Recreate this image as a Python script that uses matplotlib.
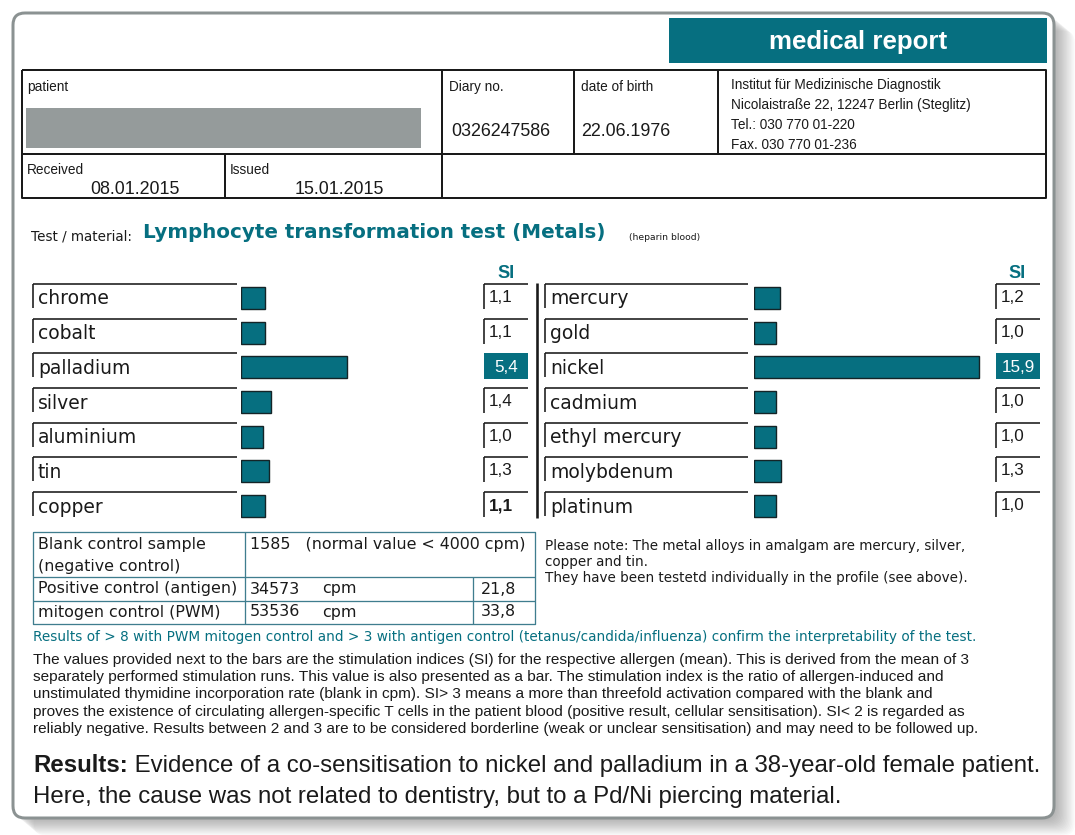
import numpy as np
import matplotlib
matplotlib.use('Agg')
import matplotlib.pyplot as plt
from matplotlib.patches import Rectangle, FancyBboxPatch
from matplotlib import font_manager

# ---------------- data ----------------
left_metals = ['chrome', 'cobalt', 'palladium', 'silver', 'aluminium', 'tin', 'copper']
left_si = [1.1, 1.1, 5.4, 1.4, 1.0, 1.3, 1.1]
right_metals = ['mercury', 'gold', 'nickel', 'cadmium', 'ethyl mercury', 'molybdenum', 'platinum']
right_si = [1.2, 1.0, 15.9, 1.0, 1.0, 1.3, 1.0]
positive_threshold = 3.0
bold_value_rows = ['copper']

control_labels = ['Positive control (antigen)', 'mitogen control (PWM)']
control_cpm = [34573, 53536]
control_si = [21.8, 33.8]
blank_cpm = 1585
blank_normal_cpm = 4000

diary_no = '0326247586'
date_of_birth = '22.06.1976'
received = '08.01.2015'
issued = '15.01.2015'
institute = ['Institut für Medizinische Diagnostik',
             'Nicolaistraße 22, 12247 Berlin (Steglitz)',
             'Tel.: 030 770 01-220',
             'Fax. 030 770 01-236']

note_lines = ['Please note: The metal alloys in amalgam are mercury, silver,',
              'copper and tin.',
              'They have been testetd individually in the profile (see above).']
criteria_line = ('Results of > 8 with PWM mitogen control and > 3 with antigen control '
                 '(tetanus/candida/influenza) confirm the interpretability of the test.')
paragraph = [
    'The values provided next to the bars are the stimulation indices (SI) for the respective allergen (mean). This is derived from the mean of 3',
    'separately performed stimulation runs. This value is also presented as a bar. The stimulation index is the ratio of allergen-induced and',
    'unstimulated thymidine incorporation rate (blank in cpm). SI> 3 means a more than threefold activation compared with the blank and',
    'proves the existence of circulating allergen-specific T cells in the patient blood (positive result, cellular sensitisation). SI< 2 is regarded as',
    'reliably negative. Results between 2 and 3 are to be considered borderline (weak or unclear sensitisation) and may need to be followed up.',
]
results_head = 'Results:'
results_lines = [' Evidence of a co-sensitisation to nickel and palladium in a 38-year-old female patient.',
                 'Here, the cause was not related to dentistry, but to a Pd/Ni piercing material.']

# ---------------- styles ----------------
TEAL = '#066f80'
GRAYBOX = '#959b9b'
FRAME = '#8b9292'
INK = '#1a1a1a'
names = {f.name for f in font_manager.fontManager.ttflist}
NARROW = ['Liberation Sans Narrow'] if 'Liberation Sans Narrow' in names else ['Liberation Sans', 'DejaVu Sans']
ARIAL = ['Liberation Sans', 'DejaVu Sans']
GOTHIC = ['DejaVu Sans']

W, H = 1075, 835
fig = plt.figure(figsize=(W / 100, H / 100), dpi=100)
ax = fig.add_axes([0, 0, 1, 1])
ax.set_xlim(0, W)
ax.set_ylim(H, 0)
ax.axis('off')
R = fig.canvas.get_renderer()
PT = 0.72  # points per pixel


def fit(s, width, family, weight='normal'):
    t = ax.text(0, 0, s, fontsize=10, family=family, weight=weight)
    w = t.get_window_extent(renderer=R).width
    t.remove()
    return 10 * width / w


def txt(x, y, s, size, family=GOTHIC, color=INK, weight='normal', ha='left', va='center', **kw):
    return ax.text(x, y, s, fontsize=size, family=family, color=color, weight=weight,
                   ha=ha, va=va, **kw)


def line(xs, ys, color=INK, lw=1.0):
    ax.plot(xs, ys, color=color, lw=lw * PT, solid_capstyle='butt')


def fmt(v):
    return f'{v:.1f}'.replace('.', ',')


# ---------------- frame + shadow ----------------
for k in range(1, 17):
    ax.add_patch(FancyBboxPatch((13 + 1.3 * k, 13 + 1.1 * k), 1041, 805,
                                boxstyle='round,pad=0,rounding_size=12',
                                fc='black', ec='none', alpha=0.02, zorder=0))
ax.add_patch(FancyBboxPatch((13, 13), 1041, 805, boxstyle='round,pad=0,rounding_size=12',
                            fc='white', ec=FRAME, lw=3 * PT, zorder=1))

# ---------------- header ----------------
ax.add_patch(Rectangle((669, 18), 378, 45, fc=TEAL, ec='none', zorder=2))
s = fit('medical report', 179, ARIAL, 'bold')
txt(858, 42, 'medical report', s, ARIAL, 'white', 'bold', ha='center', zorder=3)

lw_h = 2.0
line([22, 1046, 1046, 22, 22], [70, 70, 198, 198, 70], lw=lw_h)
line([22, 1046], [154, 154], lw=lw_h)
line([442, 442], [70, 198], lw=lw_h)
line([574, 574], [70, 154], lw=lw_h)
line([718, 718], [70, 154], lw=lw_h)
line([225, 225], [154, 198], lw=lw_h)
ax.add_patch(Rectangle((26, 108), 395, 40, fc=GRAYBOX, ec='none', zorder=2))

ns = fit(institute[0], 211, NARROW)
for i, l in enumerate(institute):
    txt(731, 85 + 20 * i, l, ns, NARROW)
txt(27, 87, 'patient', ns, NARROW)
txt(449, 87, 'Diary no.', ns, NARROW)
txt(581, 87, 'date of birth', ns, NARROW)
txt(27, 170, 'Received', ns, NARROW)
txt(230, 170, 'Issued', ns, NARROW)
ds = fit(diary_no, 100, ARIAL)
txt(451, 132, diary_no, ds, ARIAL)
txt(581, 132, date_of_birth, ds, ARIAL)
txt(90, 189, received, ds, ARIAL)
txt(295, 189, issued, ds, ARIAL)

# ---------------- title ----------------
txt(31, 237, 'Test / material:', fit('Test / material:', 101, GOTHIC), GOTHIC)
txt(143, 233, 'Lymphocyte transformation test (Metals)',
    fit('Lymphocyte transformation test (Metals)', 462, GOTHIC, 'bold'), GOTHIC, TEAL, 'bold')
txt(629, 237, '(heparin blood)', fit('(heparin blood)', 71, GOTHIC), GOTHIC)

# ---------------- bar panels ----------------
row0, pitch = 284.0, 34.67
n = len(left_metals)
label_size = fit('palladium', 93, GOTHIC)
si_size = fit('15,9', 33, NARROW)

panels = [
    dict(metals=left_metals, si=left_si, lab_x0=33, lab_x1=237, bar_x=241, bar_w=229,
         p=0.93, a=22.0, box_x0=484, box_x1=528, si_x=506),
    dict(metals=right_metals, si=right_si, lab_x0=545, lab_x1=748, bar_x=754, bar_w=240,
         p=0.84, a=22.0, box_x0=996, box_x1=1040, si_x=1017),
]

for P in panels:
    y_top_px = row0 + 14 - pitch / 2
    y_bot_px = y_top_px + n * pitch
    bax = fig.add_axes([P['bar_x'] / W, 1 - y_bot_px / H, P['bar_w'] / W, (y_bot_px - y_top_px) / H])
    p = P['p']
    bax.set_xscale('function', functions=(lambda x, p=p: np.power(np.clip(x, 0, None), p),
                                          lambda y, p=p: np.power(np.clip(y, 0, None), 1 / p)))
    bax.barh(np.arange(n), P['si'], height=22 / pitch, left=0, color=TEAL,
             edgecolor='#142427', linewidth=1.4 * PT)
    bax.set_xlim(0, (P['bar_w'] / P['a']) ** (1 / p))
    bax.set_ylim(n - 0.5, -0.5)
    bax.axis('off')

    txt(P['si_x'], 273, 'SI', fit('SI', 17, NARROW, 'bold'), NARROW, TEAL, 'bold', ha='center')
    for i, (m, v) in enumerate(zip(P['metals'], P['si'])):
        yt = row0 + i * pitch
        line([P['lab_x0'], P['lab_x1']], [yt, yt], lw=1.6)
        line([P['lab_x0'], P['lab_x0']], [yt, yt + 24], lw=1.6)
        txt(P['lab_x0'] + 5, yt + 15, m, label_size, GOTHIC)
        if v > positive_threshold:
            ax.add_patch(Rectangle((P['box_x0'], yt), P['box_x1'] - P['box_x0'], 26,
                                   fc=TEAL, ec='none', zorder=2))
            txt((P['box_x0'] + P['box_x1']) / 2, yt + 14, fmt(v), si_size, NARROW, 'white',
                ha='center', zorder=3)
        else:
            line([P['box_x0'], P['box_x1']], [yt, yt], lw=1.6)
            line([P['box_x0'], P['box_x0']], [yt, yt + 25], lw=1.6)
            txt(P['box_x0'] + 5, yt + 13.5, fmt(v), si_size, NARROW,
                weight='bold' if m in bold_value_rows else 'normal')

line([537, 537], [283, 518], lw=2.6)

# ---------------- control table ----------------
TB = '#3f7d8e'
line([33, 535, 535, 33, 33], [532, 532, 624, 624, 532], TB, 1.3)
line([33, 535], [577, 577], TB, 1.3)
line([33, 535], [601, 601], TB, 1.3)
line([245, 245], [532, 624], TB, 1.3)
line([473, 473], [577, 624], TB, 1.3)
cs = fit(control_labels[0], 199, GOTHIC)
txt(38, 545, 'Blank control sample', cs)
txt(38, 566, '(negative control)', cs)
txt(250, 545, f'{blank_cpm}   (normal value < {blank_normal_cpm} cpm)', cs)
for j, (lab, cpm, si) in enumerate(zip(control_labels, control_cpm, control_si)):
    y = 589 + 23 * j
    txt(38, y, lab, cs)
    txt(250, y, f'{cpm}', cs)
    txt(322, y, 'cpm', cs)
    txt(481, y, fmt(si), cs)

ps = fit(note_lines[0], 420, GOTHIC)
for i, l in enumerate(note_lines):
    txt(545, 546 + 16 * i, l, ps)

txt(33, 637, criteria_line, fit(criteria_line, 937, GOTHIC), GOTHIC, TEAL)

pgs = fit(paragraph[0], 942, NARROW)
for i, l in enumerate(paragraph):
    txt(33, 660 + 17.2 * i, l, pgs, NARROW)

# results
tb = ax.text(0, 0, results_head, fontsize=10, family=NARROW, weight='bold')
wb = tb.get_window_extent(renderer=R).width
tb.remove()
tr = ax.text(0, 0, results_lines[0], fontsize=10, family=NARROW)
wr = tr.get_window_extent(renderer=R).width
tr.remove()
rs = 10 * 1009 / (wb + wr)
txt(33, 766, results_head, rs, NARROW, weight='bold')
txt(33 + wb * rs / 10, 766, results_lines[0], rs, NARROW)
txt(33, 797, results_lines[1], rs, NARROW)

fig.savefig('out.png', dpi=100)
